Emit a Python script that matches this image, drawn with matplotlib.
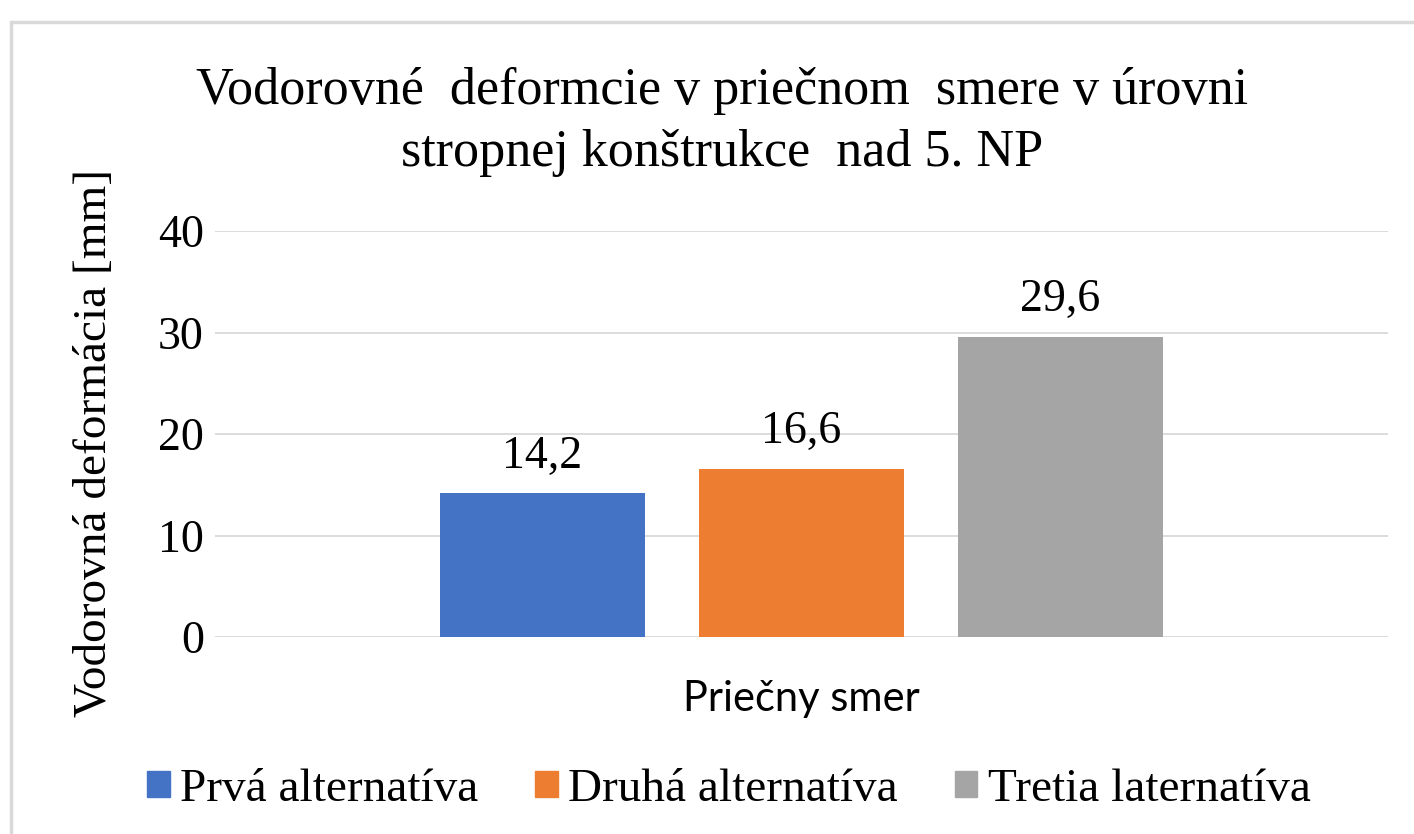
import matplotlib
matplotlib.use('Agg')
import matplotlib.pyplot as plt
from matplotlib.patches import Rectangle, Patch

# data
series = ['Prvá alternatíva', 'Druhá alternatíva', 'Tretia laternatíva']
values = [14.2, 16.6, 29.6]
colors = ['#4472C4', '#ED7D31', '#A5A5A5']
category = 'Priečny smer'

title = 'Vodorovné  deformcie v priečnom  smere v úrovni\nstropnej konštrukce  nad 5. NP'
ylabel = 'Vodorovná deformácia [mm]'

serif = ['Liberation Serif', 'DejaVu Serif']

fig = plt.figure(figsize=(14.14, 8.34), dpi=100)
W, H = 1414, 834

# chart border (only top and left visible in the reference)
fig.patches.append(Rectangle((11 / W, -0.1), 1.2, (H - 22) / H + 0.1,
                             transform=fig.transFigure, fill=False,
                             edgecolor='#d9d9d9', linewidth=2.5))

ax = fig.add_axes([215 / W, (H - 637) / H, 1173 / W, 406 / H])

bar_w = 0.174
step = 0.2208
for i, (name, v, c) in enumerate(zip(series, values, colors)):
    x = (i - 1) * step
    ax.bar(x, v, width=bar_w, color=c, label=name, zorder=3)
    ax.text(x, v + 3.6, f'{v:.1f}'.replace('.', ','), ha='center', va='center',
            fontsize=33, family=serif)

ax.set_xlim(-0.5, 0.5)
ax.set_ylim(0, 40)
ax.set_yticks([0, 10, 20, 30, 40])
ax.grid(axis='y', color='#d9d9d9', linewidth=1.3, zorder=0)
for s in ax.spines.values():
    s.set_visible(False)
ax.tick_params(axis='both', length=0)
ax.tick_params(axis='y', labelsize=33, pad=8)
for lbl in ax.get_yticklabels():
    lbl.set_family(serif)
ax.set_xticks([0])
ax.set_xticklabels([category], family=['Lato', 'DejaVu Sans'], fontsize=30)
ax.tick_params(axis='x', pad=31)

fig.text(95 / W, 1 - 443 / H, ylabel, rotation=90, ha='center', va='center',
         fontsize=34, family=serif)
fig.text(722 / W, 1 - 122 / H, title, ha='center', va='center',
         fontsize=37.5, family=serif, linespacing=1.38)

handles = [Patch(color=c) for c in colors]
fig.legend(handles, series, loc='center', bbox_to_anchor=(729 / W, 1 - 790 / H),
           ncol=3, frameon=False, prop={'family': serif, 'size': 34},
           handlelength=0.47, handleheight=0.47, handletextpad=0.23,
           columnspacing=1.2)

fig.savefig('out.png', dpi=100)
